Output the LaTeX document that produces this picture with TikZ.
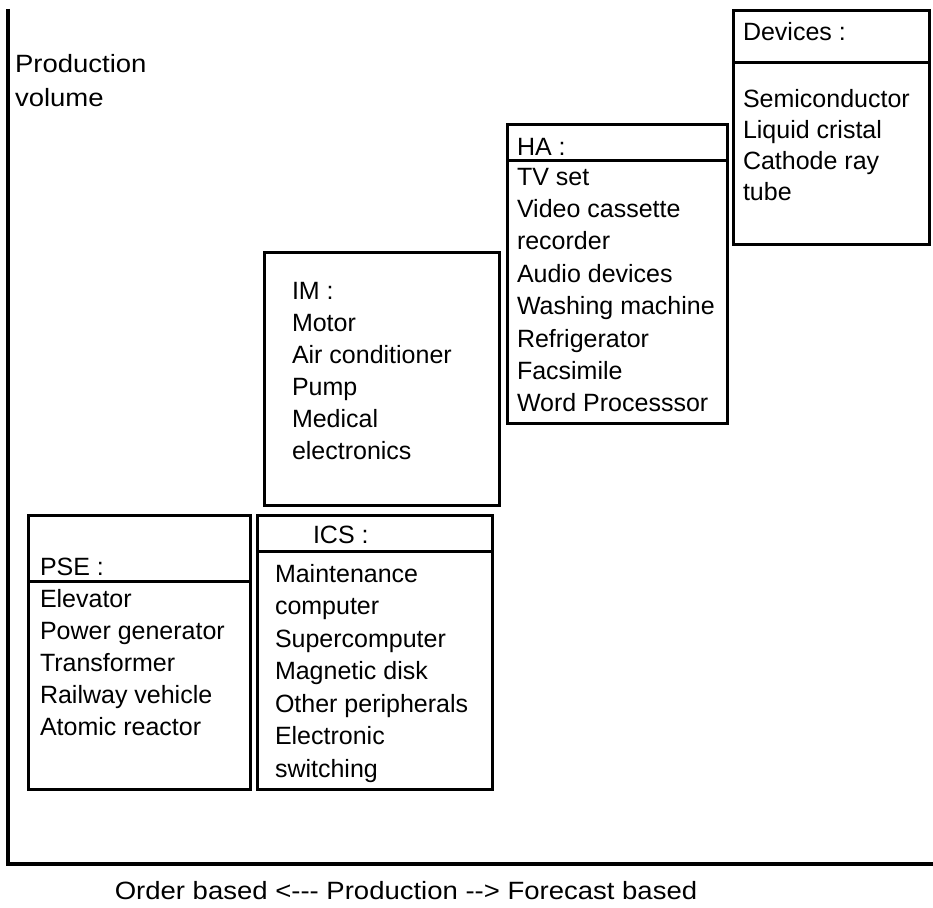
\documentclass[tikz,border=0pt]{standalone}
\usepackage{graphicx}
\usepackage{fontspec}
\setmainfont{Liberation Sans}[Ligatures=TeXOff]
\newcommand{\widetext}[1]{\scalebox{1.1}[1]{#1}}
\begin{document}
\begin{tikzpicture}[x=1pt,y=-1pt,
  every node/.style={inner sep=0pt,outer sep=0pt,font=\fontsize{25}{30}\selectfont},
  lbl/.style={anchor=base west},
  frame/.style={draw,line width=3pt,rectangle,anchor=north west},
  axisline/.style={line width=3.2pt},
  rule/.style={line width=3pt}]
\useasboundingbox (0,0) rectangle (933,907);

% axes
\coordinate (top) at (8,9);
\coordinate (origin) at (8,864);
\coordinate (right) at (933,864);
\draw[axisline] (top) -- (origin) -- (right);

\node[lbl] (yl1) at (15,72) {\widetext{Production}};
\node[lbl] (yl2) at (15,106) {\widetext{volume}};

\node[anchor=base] (xl) at (406,899) {\widetext{Order based <--- Production --> Forecast based}};

% Devices
\node[frame,minimum width=196,minimum height=233] (dev) at (733,11) {};
\draw[rule] (dev.west |- 0,62) -- (dev.east |- 0,62);
\node[lbl] (devh) at (743,41) {Devices :};
\foreach \t [count=\i] in {Semiconductor,Liquid cristal,Cathode ray,tube}
  \node[lbl] (dev-\i) at (743,{107+31*(\i-1)}) {\t};

% HA
\node[frame,minimum width=220,minimum height=299] (ha) at (507,124) {};
\draw[rule] (ha.west |- 0,160) -- (ha.east |- 0,160);
\node[lbl] (hah) at (517,155) {HA :};
\foreach \t [count=\i] in {TV set,Video cassette,recorder,Audio devices,Washing machine,Refrigerator,Facsimile,Word Processsor}
  \node[lbl] (ha-\i) at (517,{185+32.4*(\i-1)}) {\t};

% IM
\node[frame,minimum width=235,minimum height=253] (im) at (264,252) {};
\foreach \t [count=\i] in {IM :,Motor,Air conditioner,Pump,Medical,electronics}
  \node[lbl] (im-\i) at (292,{299+32*(\i-1)}) {\t};

% PSE
\node[frame,minimum width=222,minimum height=274] (pse) at (28,515) {};
\draw[rule] (pse.west |- 0,581) -- (pse.east |- 0,581);
\node[lbl] (pseh) at (40,575) {PSE :};
\foreach \t [count=\i] in {Elevator,Power generator,Transformer,Railway vehicle,Atomic reactor}
  \node[lbl] (pse-\i) at (40,{607+32.2*(\i-1)}) {\t};

% ICS
\node[frame,minimum width=235,minimum height=274] (ics) at (257,515) {};
\draw[rule] (ics.west |- 0,551) -- (ics.east |- 0,551);
\node[lbl] (icsh) at (313,543) {ICS :};
\foreach \t [count=\i] in {Maintenance,computer,Supercomputer,Magnetic disk,Other peripherals,Electronic,switching}
  \node[lbl] (ics-\i) at (275,{582+32.5*(\i-1)}) {\t};
\end{tikzpicture}
\end{document}
